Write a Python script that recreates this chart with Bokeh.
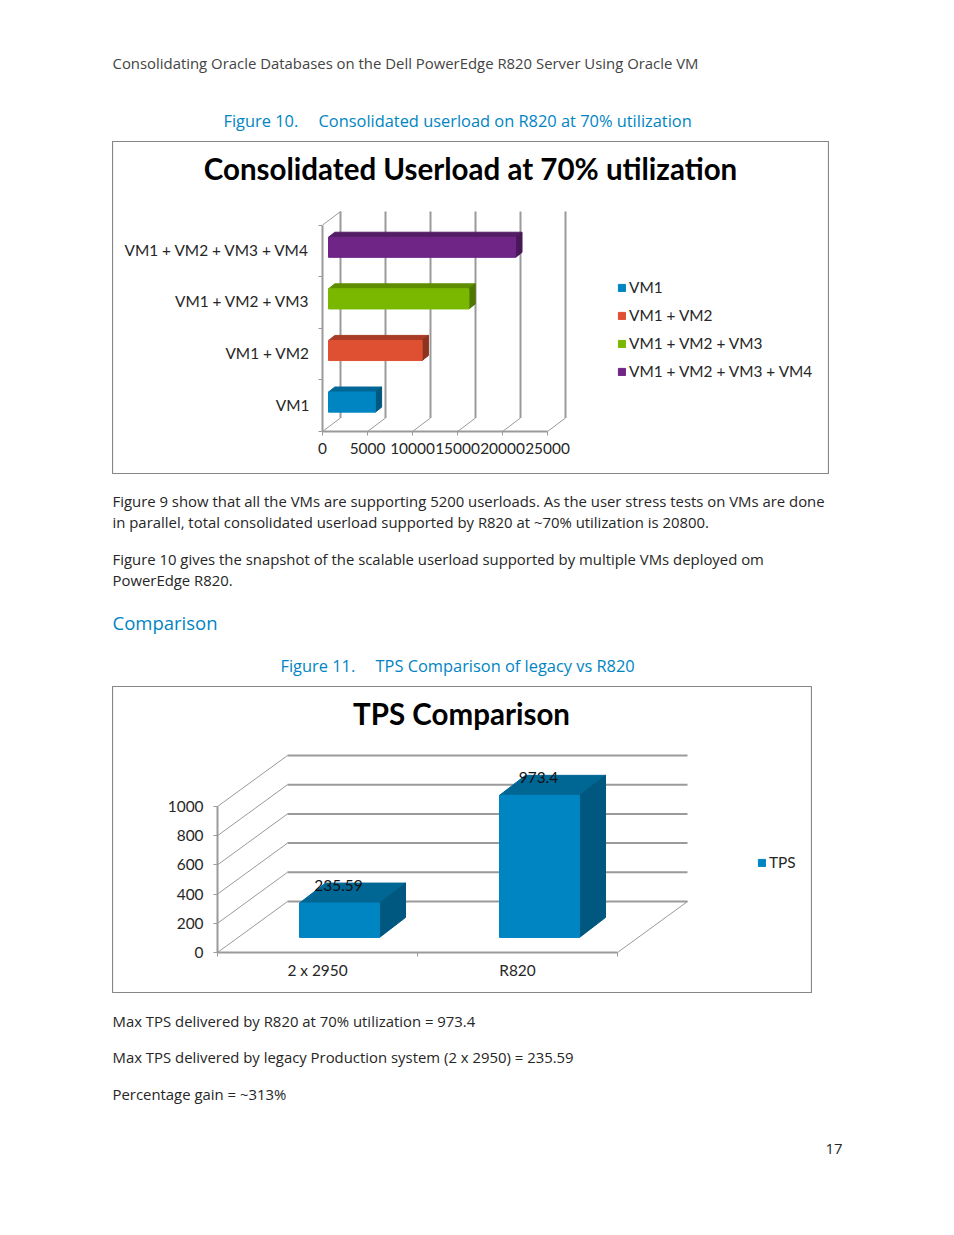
from bokeh.plotting import figure
from bokeh.models import (Range1d, FixedTicker, Legend, LegendItem, Label, ColumnDataSource)
from bokeh.layouts import column
from bokeh.core.properties import value
from bokeh.embed import file_html
from bokeh.resources import INLINE

# ---------- data ----------
VM_CATS = ["VM1", "VM1 + VM2", "VM1 + VM2 + VM3", "VM1 + VM2 + VM3 + VM4"]
VM_USERLOAD = [5200, 10400, 15600, 20800]
VM_TICKS = [0, 5000, 10000, 15000, 20000, 25000]
TPS_CATS = ["2 x 2950", "R820"]
TPS_VALUES = [235.59, 973.4]
TPS_TICKS = [0, 200, 400, 600, 800, 1000]
TITLE_1 = "Consolidated Userload at 70% utilization"
TITLE_2 = "TPS Comparison"
HEADER = "Consolidating Oracle Databases on the Dell PowerEdge R820 Server Using Oracle VM"
CAP10 = ["Figure 10.", "Consolidated userload on R820 at 70% utilization"]
CAP11 = ["Figure 11.", "TPS Comparison of legacy vs R820"]
BODY_1 = ["Figure 9 show that all the VMs are supporting 5200 userloads. As the user stress tests on VMs are done",
          "in parallel, total consolidated userload supported by R820 at ~70% utilization is 20800."]
BODY_2 = ["Figure 10 gives the snapshot of the scalable userload supported by multiple VMs deployed om",
          "PowerEdge R820."]
SECTION = "Comparison"
BODY_3 = ["Max TPS delivered by R820 at 70% utilization = 973.4",
          "Max TPS delivered by legacy Production system (2 x 2950) = 235.59",
          "Percentage gain = ~313%"]
PAGE_NO = "17"

# ---------- styles ----------
FONT = "Lato"
BODY_FONT = "Open Sans"
BLUE = "#0085C3"
GREY = "#9A9A9A"
INK = "#262626"
BOX = "#868686"
FACE = ["#0085C3", "#DF5032", "#7AB800", "#6E2585"]
TOP = ["#006795", "#A83C26", "#5E8E00", "#551C66"]
SIDE = ["#00577F", "#8E3220", "#4F7800", "#481757"]
BODY_SIZE = 14.9


def text_panel(height, top):
    p = figure(width=950, height=height, x_range=Range1d(0, 950), y_range=Range1d(top + height, top),
               x_axis_type=None, y_axis_type=None, toolbar_location=None, output_backend="svg",
               min_border=0, outline_line_color=None, frame_align=False)
    p.grid.visible = False
    return p


def put(p, x, y, s, size=BODY_SIZE, color=INK, font=BODY_FONT, align="left"):
    p.text([x], [y], text=[s], text_font=value(font), text_font_size=f"{size}px", text_color=color,
           text_align=align, text_baseline="middle")


def title(p, x, y, s, size):
    p.add_layout(Label(x=x, y=y, x_units="screen", y_units="screen", text=s,
                       text_font=FONT, text_font_size=f"{size}px", text_color="#000000",
                       text_font_style="bold", text_align="center", text_baseline="middle"))


def style_axis(ax, size=15.4):
    ax.axis_line_color = GREY
    ax.axis_line_width = 2
    ax.major_label_text_font = FONT
    ax.major_label_text_font_size = f"{size}px"
    ax.major_label_text_color = INK
    ax.major_tick_line_color = GREY
    ax.minor_tick_line_color = GREY
    ax.major_tick_in = 0
    ax.minor_tick_in = 0
    ax.fixed_location = 0


def legend(p, items, x, y, size=15.4):
    lg = Legend(items=items, location=(x, y), padding=0, margin=0, border_line_color=None,
                background_fill_alpha=0, glyph_width=9, glyph_height=9, label_height=14,
                label_standoff=3, spacing=10, label_text_font=FONT, label_text_font_size=f"{size}px",
                label_text_color=INK)
    p.add_layout(lg, "center")


# ---------- top text ----------
top = text_panel(141, 0)
put(top, 112, 62, HEADER, color="#444444")
put(top, 223, 120, CAP10[0], color=BLUE, size=16.4)
put(top, 318, 120, CAP10[1], color=BLUE, size=16.4)

# ---------- chart 1 ----------
X_DEPTH = 2000
Y_DEPTH = 0.262
PX1 = 0.009      # data-to-pixel factors of the plot box
PY1 = 51.6
c1 = figure(width=717, height=333, x_range=Range1d(-210 / PX1, 507 / PX1), y_range=Range1d(-43 / PY1, 290 / PY1),
            toolbar_location=None, output_backend="svg", min_border=0, outline_line_color=BOX,
            outline_line_width=1.2, margin=(0, 0, 0, 112), frame_align=False)
c1.grid.visible = False

n = len(VM_CATS)
c1.segment([v + X_DEPTH for v in VM_TICKS], [Y_DEPTH] * len(VM_TICKS),
           [v + X_DEPTH for v in VM_TICKS], [n + Y_DEPTH] * len(VM_TICKS), line_color=GREY, line_width=2)
c1.segment(VM_TICKS, [0] * len(VM_TICKS), [v + X_DEPTH for v in VM_TICKS], [Y_DEPTH] * len(VM_TICKS),
           line_color=GREY, line_width=1)
c1.segment([0], [n], [X_DEPTH], [n + Y_DEPTH], line_color=GREY, line_width=1)

BAR_X = 667
BAR_Y = 0.07
BAR_H = 0.39
BAR_DX = 700
BAR_DY = 0.097
LABEL_SHIFT = 0.02
centers = [i + 0.5 + BAR_Y for i in range(n)]
src = ColumnDataSource(dict(y=centers, left=[BAR_X] * n, right=[v + BAR_X for v in VM_USERLOAD], color=FACE))
tops_x, tops_y, sides_x, sides_y = [], [], [], []
for c, v in zip(centers, VM_USERLOAD):
    r = v + BAR_X
    t = c + BAR_H / 2
    b = c - BAR_H / 2
    tops_x.append([BAR_X, r, r + BAR_DX, BAR_X + BAR_DX])
    tops_y.append([t, t, t + BAR_DY, t + BAR_DY])
    sides_x.append([r, r + BAR_DX, r + BAR_DX, r])
    sides_y.append([b, b + BAR_DY, t + BAR_DY, t])
c1.patches(tops_x, tops_y, fill_color=TOP, line_color=TOP)
c1.patches(sides_x, sides_y, fill_color=SIDE, line_color=SIDE)
bars1 = c1.hbar(y="y", left="left", right="right", height=BAR_H, source=src, fill_color="color", line_color="color")

ax = c1.xaxis[0]
ax.ticker = FixedTicker(ticks=VM_TICKS)
ax.bounds = (0, 25000)
ax.major_label_overrides = {v: str(v) for v in VM_TICKS}
style_axis(ax)
ax.major_tick_out = 4
ax.major_label_standoff = 7
ay = c1.yaxis[0]
ay.ticker = FixedTicker(ticks=[i + 0.5 + LABEL_SHIFT for i in range(n)], minor_ticks=list(range(n + 1)))
ay.bounds = (0, n)
ay.major_label_overrides = {i + 0.5 + LABEL_SHIFT: s for i, s in enumerate(VM_CATS)}
style_axis(ay)
ay.major_tick_out = 0
ay.minor_tick_out = 4
ay.major_label_standoff = 9

legend(c1, [LegendItem(label=s, renderers=[bars1], index=i) for i, s in enumerate(VM_CATS)], 505, 94)
title(c1, 358, 306, TITLE_1, 29.5)

# ---------- middle text ----------
mid = text_panel(212, 474)
for y, s in zip((500, 521), BODY_1):
    put(mid, 112, y, s)
for y, s in zip((558, 579), BODY_2):
    put(mid, 112, y, s)
put(mid, 112, 622, SECTION, color=BLUE, size=18.5)
put(mid, 280, 665, CAP11[0], color=BLUE, size=16.4)
put(mid, 375, 665, CAP11[1], color=BLUE, size=16.4)

# ---------- chart 2 ----------
X_D2 = 0.35
Y_D2 = 349.3
PX2 = 200
PY2 = 0.146
c2 = figure(width=700, height=307, x_range=Range1d(-105 / PX2, 595 / PX2), y_range=Range1d(-41 / PY2, 266 / PY2),
            toolbar_location=None, output_backend="svg", min_border=0, outline_line_color=BOX,
            outline_line_width=1.2, margin=(0, 0, 0, 112), frame_align=False)
c2.grid.visible = False

m = len(TPS_CATS)
c2.segment([X_D2] * len(TPS_TICKS), [v + Y_D2 for v in TPS_TICKS], [m + X_D2] * len(TPS_TICKS),
           [v + Y_D2 for v in TPS_TICKS], line_color=GREY, line_width=2)
c2.segment([0] * len(TPS_TICKS), TPS_TICKS, [X_D2] * len(TPS_TICKS), [v + Y_D2 for v in TPS_TICKS],
           line_color=GREY, line_width=1)
c2.segment([m], [0], [m + X_D2], [Y_D2], line_color=GREY, line_width=1)

B_X = 0.11
B_Y = 103
B_W = 0.40
B_DX = 0.13
B_DY = 137
mids = [i + 0.5 + B_X for i in range(m)]
t_x, t_y, s_x, s_y = [], [], [], []
for c, v in zip(mids, TPS_VALUES):
    l = c - B_W / 2
    r = c + B_W / 2
    h = v + B_Y
    t_x.append([l, r, r + B_DX, l + B_DX])
    t_y.append([h, h, h + B_DY, h + B_DY])
    s_x.append([r, r + B_DX, r + B_DX, r])
    s_y.append([B_Y, B_Y + B_DY, h + B_DY, h])
c2.patches(t_x, t_y, fill_color=TOP[0], line_color=TOP[0])
c2.patches(s_x, s_y, fill_color=SIDE[0], line_color=SIDE[0])
bars2 = c2.vbar(x=mids, bottom=B_Y, top=[v + B_Y for v in TPS_VALUES], width=B_W,
                fill_color=FACE[0], line_color=FACE[0])
c2.text([i + 0.5 + 0.105 for i in range(m)], TPS_VALUES, text=[str(v) for v in TPS_VALUES],
        text_font=value(FONT), text_font_size="15.4px", text_color="#111111",
        text_align="center", text_baseline="middle", y_offset=-33)

ax = c2.xaxis[0]
ax.ticker = FixedTicker(ticks=[i + 0.5 for i in range(m)], minor_ticks=list(range(m + 1)))
ax.bounds = (0, m)
ax.major_label_overrides = {i + 0.5: s for i, s in enumerate(TPS_CATS)}
style_axis(ax)
ax.major_tick_out = 0
ax.minor_tick_out = 4
ax.major_label_standoff = 4
ay = c2.yaxis[0]
ay.ticker = FixedTicker(ticks=TPS_TICKS)
ay.bounds = (0, 1000)
ay.major_label_overrides = {v: str(v) for v in TPS_TICKS}
style_axis(ay)
ay.major_tick_out = 4
ay.major_label_standoff = 10

legend(c2, [LegendItem(label="TPS", renderers=[bars2], index=0)], 645, 122)
title(c2, 349, 280, TITLE_2, 29.5)

# ---------- bottom text ----------
bot = text_panel(237, 993)
for y, s in zip((1020, 1056, 1093), BODY_3):
    put(bot, 112, y, s)
put(bot, 825, 1148, PAGE_NO)

page = column(top, c1, mid, c2, bot, spacing=0)
open("out.html", "w").write(file_html(page, INLINE))
